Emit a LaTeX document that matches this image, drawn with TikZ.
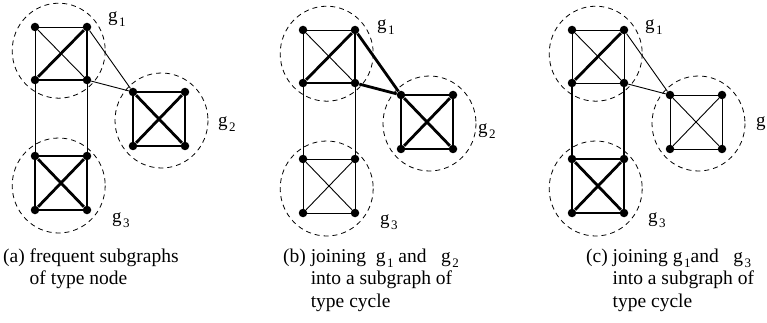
\documentclass[tikz,border=0pt]{standalone}
\usepackage{fontspec}
\setmainfont{Liberation Serif}
\newcommand{\gsub}[1]{g\kern1.5pt\raisebox{-5pt}{\fontsize{13}{13}\selectfont #1}}
\newcommand{\panelnodes}[3]{%
  \begin{scope}[shift={(#2,#3)}]
    \node[dot] (#111) at (35,27) {};
    \node[dot] (#112) at (87,27) {};
    \node[dot] (#113) at (35,80) {};
    \node[dot] (#114) at (87,80) {};
    \node[dot] (#121) at (133,92) {};
    \node[dot] (#122) at (185,92) {};
    \node[dot] (#123) at (133,146) {};
    \node[dot] (#124) at (185,146) {};
    \node[dot] (#131) at (35,156) {};
    \node[dot] (#132) at (87,156) {};
    \node[dot] (#133) at (35,210) {};
    \node[dot] (#134) at (87,210) {};
    \draw[grp] (58.7,50.7) ellipse [x radius=46.5, y radius=47.5];
    \draw[grp] (161.5,120.5) ellipse [x radius=46.5, y radius=47.5];
    \draw[grp] (58.7,185.5) ellipse [x radius=46.5, y radius=47.5];
  \end{scope}}
% square edges: top,left,diag TL-BR,diag BL-TR,bottom,right
\newcommand{\sq}[8]{%
  \draw[#3] (#1#21) -- (#1#22);
  \draw[#4] (#1#21) -- (#1#23);
  \draw[#5] (#1#21) -- (#1#24);
  \draw[#6] (#1#23) -- (#1#22);
  \draw[#7] (#1#23) -- (#1#24);
  \draw[#8] (#1#22) -- (#1#24);}
\begin{document}
\begin{tikzpicture}[x=1pt,y=-1pt,
  dot/.style={circle,fill=black,inner sep=0pt,minimum size=8.5pt},
  tn/.style={line width=0.9pt},
  tk/.style={line width=2.8pt},
  grp/.style={dash pattern=on 5pt off 4pt,line width=0.8pt},
  lab/.style={anchor=base west,inner sep=0pt,font=\fontsize{19}{22}\selectfont},
  captext/.style={anchor=base west,inner sep=0pt,font=\fontsize{19.5}{22.5}\selectfont}]
\useasboundingbox (0,0) rectangle (767,323);
\panelnodes{a}{0}{0}
\panelnodes{b}{268}{3}
\panelnodes{c}{537}{3}
% panel (a)
\sq{a}{1}{tn}{tn}{tn}{tk}{tk}{tk}
\sq{a}{2}{tk}{tk}{tk}{tk}{tk}{tk}
\sq{a}{3}{tk}{tk}{tk}{tk}{tk}{tk}
\draw[tn] (a12) -- (a21);
\draw[tn] (a14) -- (a21);
\draw[tn] (a13) -- (a31);
\draw[tn] (a14) -- (a32);
% panel (b)
\sq{b}{1}{tn}{tn}{tn}{tk}{tk}{tk}
\sq{b}{2}{tk}{tk}{tk}{tk}{tk}{tk}
\sq{b}{3}{tn}{tn}{tn}{tn}{tn}{tn}
\draw[tk] (b12) -- (b21);
\draw[tk] (b14) -- (b21);
\draw[tn] (b13) -- (b31);
\draw[tn] (b14) -- (b32);
% panel (c)
\sq{c}{1}{tn}{tn}{tn}{tk}{tn}{tn}
\sq{c}{2}{tn}{tn}{tn}{tn}{tn}{tn}
\sq{c}{3}{tk}{tk}{tk}{tk}{tk}{tk}
\draw[tn] (c12) -- (c21);
\draw[tn] (c14) -- (c21);
\draw[tk] (c13) -- (c31);
\draw[tk] (c14) -- (c32);
% labels
\node[lab] (la1) at (108,22) {\gsub{1}};
\node[lab] (la2) at (218,127) {\gsub{2}};
\node[lab] (la3) at (112,222) {\gsub{3}};
\node[lab] (lb1) at (377,30) {\gsub{1}};
\node[lab] (lb2) at (478,134) {\gsub{2}};
\node[lab] (lb3) at (380,224) {\gsub{3}};
\node[lab] (lc1) at (645,30) {\gsub{1}};
\node[lab] (lc2) at (756,127) {\gsub{2}};
\node[lab] (lc3) at (648,222) {\gsub{3}};
% captions
\node[captext] (capa) at (3,262) {\begin{tabular}[t]{@{}l@{ }l@{}}(a)&frequent subgraphs\\&of type node\end{tabular}};
\node[captext] (capb) at (283,262) {\begin{tabular}[t]{@{}l@{ }l@{}}(b)&joining\ \ \gsub{1} and\ \ \ \gsub{2}\\&into a subgraph of\\&type cycle\end{tabular}};
\node[captext] (capc) at (586,262) {\begin{tabular}[t]{@{}l@{ }l@{}}(c)&joining \gsub{1}and\ \ \ \gsub{3}\\&into a subgraph of\\&type cycle\end{tabular}};
\end{tikzpicture}
\end{document}
